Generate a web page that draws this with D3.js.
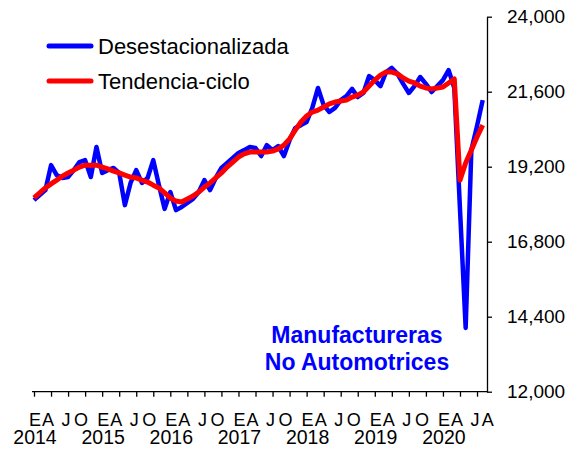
<!DOCTYPE html>
<html>
<head>
<meta charset="utf-8">
<script src="https://cdn.jsdelivr.net/npm/d3@7"></script>
<style>
  body { margin: 0; background: #fff; }
  svg text { font-family: "Liberation Sans", Arial, sans-serif; fill: #000; }
</style>
</head>
<body>
<svg id="chart" width="574" height="455"></svg>
<script>
// monthly data, Jan 2014 .. Aug 2020
const years = ["2014", "2015", "2016", "2017", "2018", "2019", "2020"];
const monthLetters = ["E", "A", "J", "O"];
const lastLabel = "A"; // agosto 2020

const desestacionalizada = [
  18130, 18290, 18450, 19250, 18930, 18840, 18870, 19090, 19350, 19410, 18870, 19830,
  19000, 19090, 19160, 19000, 17970, 18680, 19090, 18680, 18840, 19410, 18610, 17850,
  18390, 17810, 17910, 18040, 18170, 18390, 18770, 18450, 18840, 19160, 19320, 19480,
  19640, 19730, 19830, 19800, 19540, 19890, 19730, 19860, 19540, 20050, 20440, 20530,
  20630, 21080, 21720, 21170, 20950, 21080, 21330, 21460, 21690, 21430, 21560, 22100,
  21970, 21780, 22230, 22360, 22170, 21850, 21560, 21780, 22070, 21850, 21590, 21780,
  21970, 22290, 21720, 17850, 14040, 19730, 20500, 21330
];

const tendenciaCiclo = [
  18200, 18360, 18520, 18650, 18770, 18900, 19000, 19090, 19190, 19250, 19250, 19250,
  19190, 19130, 19060, 19000, 18930, 18870, 18840, 18770, 18710, 18610, 18520, 18360,
  18200, 18100, 18070, 18170, 18260, 18390, 18550, 18680, 18840, 19000, 19190, 19350,
  19510, 19610, 19670, 19670, 19670, 19670, 19700, 19770, 19890, 20090, 20370, 20630,
  20820, 20950, 21010, 21110, 21210, 21270, 21300, 21330, 21430, 21490, 21590, 21780,
  21970, 22130, 22230, 22230, 22170, 22040, 21940, 21880, 21780, 21720, 21690, 21720,
  21750, 21880, 22010, 18770, 19320, 19730, 20150, 20530
];

const yTicks = [12000, 14400, 16800, 19200, 21600, 24000];

const svg = d3.select("#chart");

const plotLeft = 32, plotRight = 487;

const x = d3.scaleLinear()
  .domain([0, desestacionalizada.length - 1])
  .range([34, 482.7]);

const y = d3.scaleLinear()
  .domain([12000, 24000])
  .range([391.7, 16.7]);

// y axis on the right
const yAxis = d3.axisRight(y)
  .tickValues(yTicks)
  .tickFormat(d3.format(","))
  .tickSize(5)
  .tickSizeOuter(0)
  .tickPadding(15);

const gy = svg.append("g")
  .attr("transform", `translate(${plotRight},0)`)
  .call(yAxis);
gy.selectAll("text").style("font-size", "19px");
gy.selectAll("path, line").attr("stroke", "#000").attr("stroke-width", 1.3);

// x axis: quarterly ticks
const tickMonths = d3.range(0, desestacionalizada.length, 3);
const xAxis = d3.axisBottom(x)
  .tickValues(tickMonths)
  .tickFormat("")
  .tickSize(5)
  .tickSizeOuter(0);

const gx = svg.append("g")
  .attr("transform", `translate(0,${y(12000)})`)
  .call(xAxis);
gx.select(".domain").remove();
gx.selectAll("line").attr("stroke", "#000").attr("stroke-width", 1.3);
gx.append("line")
  .attr("x1", plotLeft).attr("x2", plotRight)
  .attr("stroke", "#000").attr("stroke-width", 1.3);

// month letters
const letterShift = { E: 1, A: -3, J: -2, O: -4 };
const monthLabels = tickMonths.map(m => {
  const t = monthLetters[(m / 3) % 4];
  return { m, t, dx: letterShift[t] };
});
monthLabels.push({ m: desestacionalizada.length - 1, t: lastLabel, dx: 5 });

svg.append("g").selectAll("text")
  .data(monthLabels)
  .join("text")
    .attr("x", d => x(d.m) + d.dx)
    .attr("y", 426)
    .attr("text-anchor", "middle")
    .style("font-size", "18px")
    .text(d => d.t);

svg.append("g").selectAll("text")
  .data(years)
  .join("text")
    .attr("x", (d, i) => x(i * 12) + 1)
    .attr("y", 444)
    .attr("text-anchor", "middle")
    .style("font-size", "19.5px")
    .text(d => d);

// series
const line = d3.line()
  .x((d, i) => x(i))
  .y(d => y(d));

svg.append("path")
  .datum(desestacionalizada)
  .attr("fill", "none")
  .attr("stroke", "#0000ff")
  .attr("stroke-width", 4.5)
  .attr("stroke-linejoin", "round")
  .attr("d", line);

svg.append("path")
  .datum(tendenciaCiclo)
  .attr("fill", "none")
  .attr("stroke", "#ff0000")
  .attr("stroke-width", 5)
  .attr("stroke-linejoin", "round")
  .attr("d", line);

// legend
const legend = [
  { name: "Desestacionalizada", color: "#0000ff" },
  { name: "Tendencia-ciclo", color: "#ff0000" }
];
const lg = svg.append("g").selectAll("g")
  .data(legend)
  .join("g")
    .attr("transform", (d, i) => `translate(49,${46 + i * 35})`);
lg.append("line")
  .attr("x1", 0).attr("x2", 42)
  .attr("stroke", d => d.color)
  .attr("stroke-width", 5)
  .attr("stroke-linecap", "round");
lg.append("text")
  .attr("x", 49)
  .attr("y", 8)
  .style("font-size", "22px")
  .text(d => d.name);

// annotation
const note = ["Manufactureras", "No Automotrices"];
svg.append("g").selectAll("text")
  .data(note)
  .join("text")
    .attr("x", 357)
    .attr("y", (d, i) => 343 + i * 27)
    .attr("text-anchor", "middle")
    .style("font-size", "23px")
    .style("font-weight", "bold")
    .style("fill", "#0000ff")
    .text(d => d);
</script>
</body>
</html>
